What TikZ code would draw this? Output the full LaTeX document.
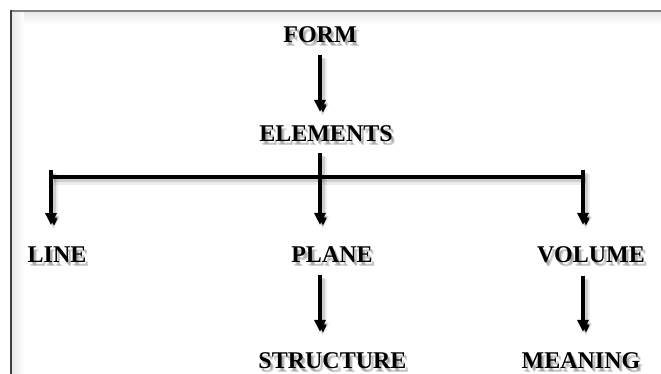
\documentclass[tikz,border=0pt]{standalone}
\usepackage{fontspec}
\setmainfont{Liberation Serif}
\usetikzlibrary{arrows.meta}
\newcommand\shlabel[4]{%
  \foreach \k/\dx/\dy in {a/2/-2.5, b/3/-3.5}{%
    \node[txtsh] (#1-\k) at (#2+\dx,#3+\dy) {#4};}%
  \node[txt] (#1) at (#2,#3) {#4};}
\begin{document}
\begin{tikzpicture}[x=1pt,y=1pt,
  txt/.style={font=\fontsize{24}{24}\selectfont\bfseries, inner sep=0pt, anchor=base, text=black},
  txtsh/.style={txt, text opacity=0.18},
  shadowed/.style={
    preaction={draw=black, draw opacity=0.07, line width=8pt, transform canvas={xshift=3pt,yshift=-4pt}},
    preaction={draw=black, draw opacity=0.13, line width=5pt, transform canvas={xshift=2.5pt,yshift=-3pt}}},
  conn/.style={shadowed, line width=3.2pt, black, -{Triangle[length=12pt,width=11pt]}},
  barline/.style={shadowed, line width=3.2pt, black}]
\useasboundingbox (0,0) rectangle (661,374);
\fill[white] (0,0) rectangle (661,374);
% frame with faint inner shadow
\shade[top color=black!9, bottom color=white] (12,350) rectangle (661,362);
\shade[left color=black!9, right color=white] (12,0) rectangle (24,362);
\draw[line width=2pt, black!50] (11,363) -- (661,363);
\draw[line width=1.6pt, black!75] (11,364) -- (11,0);
% labels
\shlabel{form}{320}{331}{FORM}
\shlabel{elements}{326}{232}{ELEMENTS}
\shlabel{line}{57}{111}{LINE}
\shlabel{plane}{332}{111}{PLANE}
\shlabel{volume}{591}{111}{VOLUME}
\shlabel{structure}{332.5}{5}{STRUCTURE}
\shlabel{meaning}{581}{5}{MEANING}
% junction coordinates
\coordinate (bl) at (51,197);
\coordinate (bc) at (320,197);
\coordinate (br) at (583,197);
\coordinate (tl) at (51,204);
\coordinate (tr) at (583,204);
% connectors
\draw[conn, shorten <=12pt, shorten >=14pt] (form.south) -- (form.south |- elements.north);
\draw[barline] (bl) -- (br);
\draw[conn, shorten <=11pt, shorten >=22pt] (bc |- elements.south) -- (bc |- plane.north);
\draw[conn, shorten >=22pt] (tl) -- (tl |- line.north);
\draw[conn, shorten >=22pt] (tr) -- (tr |- volume.north);
\draw[conn, shorten <=12pt, shorten >=21pt] (bc |- plane.south) -- (bc |- structure.north);
\draw[conn, shorten <=12pt, shorten >=21pt] (br |- volume.south) -- (br |- meaning.north);
\end{tikzpicture}
\end{document}
